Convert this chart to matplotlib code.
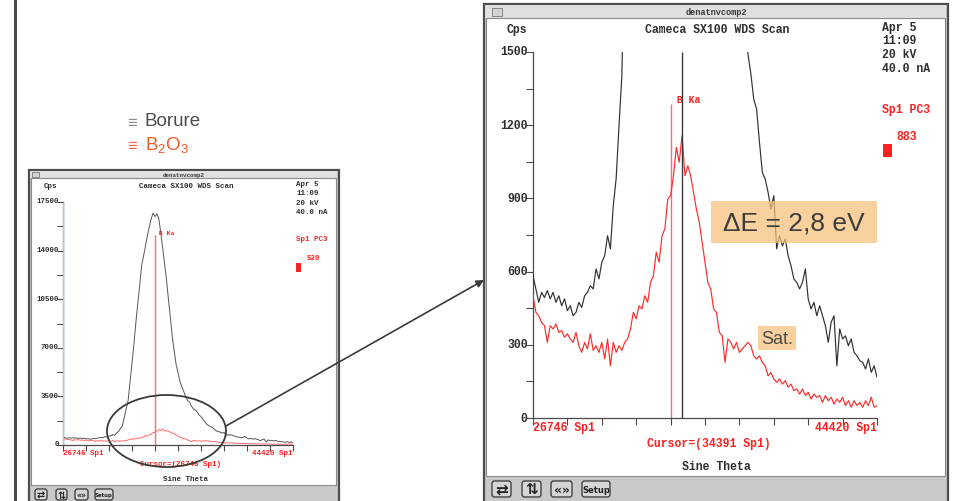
import numpy as np
import matplotlib
matplotlib.use("Agg")
import matplotlib.pyplot as plt
from matplotlib.patches import Rectangle, Ellipse, FancyBboxPatch
from matplotlib.ticker import MultipleLocator

# ---------------------------------------------------------------- data
sine_theta_start = 26746
sine_theta_end = 44420
n_channels = 121
sine_theta = np.linspace(sine_theta_start, sine_theta_end, n_channels)

# Boride standard, counts per second
borure_cps = [
    583, 529, 474, 515, 494, 522, 488, 515, 474, 501, 460, 488, 440, 460, 419, 433,
    474, 453, 501, 515, 542, 529, 611, 570, 638, 665, 747, 693, 870, 980, 1198, 1403,
    2000, 2620, 3240, 4590, 5880, 7250, 8800, 10170, 11470, 12900, 13600, 14300, 15060,
    15700, 16280, 16700, 16450, 16650, 16300, 15300, 14200, 13050, 11900, 10500, 9200,
    7800, 6800, 5810, 5200, 4580, 4180, 3850, 3500, 3200, 3100, 2800, 2600, 2520, 2380,
    2170, 2040, 1850, 1680,
    1490, 1410, 1307, 1266, 1130, 1007, 979, 925, 856, 911, 693, 747, 706, 734, 665,
    624, 570, 556, 529, 556, 611, 488, 447, 474, 419, 460, 419, 378, 310, 392, 419,
    214, 365, 324, 337, 296, 324, 269, 255, 235, 228, 201, 242, 187, 214, 167,
]

# Boron oxide, counts per second
b2o3_cps = [
    501, 433, 419, 392, 378, 310, 378, 365, 385, 351, 358, 331, 345, 324, 310, 351,
    296, 269, 310, 283, 345, 277, 296, 269, 310, 242, 324, 214, 310, 269, 296, 277,
    310, 324, 365,
    433, 406, 460, 447, 501, 474, 556, 583, 679, 638, 747, 775, 897, 911, 993, 1109,
    1048, 1157, 993, 1034, 993, 925, 856, 802, 720, 638, 556, 529, 447, 433, 351, 337,
    228, 324, 310, 283, 310, 269, 283, 296, 310, 296, 255, 242, 255, 228, 214, 173,
    187, 160, 146, 160, 139, 153, 126, 139, 112, 119, 98, 119, 92, 105, 78, 98, 85,
    92, 64, 92, 71, 85, 57, 78, 64, 85, 51, 71, 44, 71, 51, 64, 44, 71, 51, 85, 44, 51,
]

b_ka_position = 33821
overview_cursor = 26746
zoom_cursor = 34391
b_ka_top_overview = 15120
b_ka_top_zoom = 1287

overview_yticks = [0, 3500, 7000, 10500, 14000, 17500]
zoom_yticks = [0, 300, 600, 900, 1200, 1500]

# ---------------------------------------------------------------- style
W, H = 956, 502
MONO = ['Liberation Mono', 'DejaVu Sans Mono']
SANS = ['Liberation Sans', 'DejaVu Sans']
RED = '#ff2020'
INK = '#2e2e2e'

fig = plt.figure(figsize=(W / 100, H / 100), dpi=100)
fig.patch.set_facecolor('white')


def frac(x0, y0, x1, y1):
    return [x0 / W, 1 - y1 / H, (x1 - x0) / W, (y1 - y0) / H]


bg = fig.add_axes([0, 0, 1, 1], zorder=0)
bg.set_xlim(0, W)
bg.set_ylim(H, 0)
bg.axis('off')

# slide margin bar
bg.add_patch(Rectangle((14, -2), 2.6, H + 4, facecolor='#4a4a4a', edgecolor='none'))

# bullet legend
bg.text(127, 123, '\u2261', family=SANS, fontsize=12, color='#8a8a8a', va='center')
bg.text(145, 122, 'Borure', family=SANS, fontsize=13.5, color='#4d4d4d', va='center')
bg.text(127, 147, '\u2261', family=SANS, fontsize=12, color='#f26a45', va='center')
bg.text(145, 146, r'B$_\mathregular{2}$O$_\mathregular{3}$', family=SANS, fontsize=13.5,
        color='#f05a28', va='center')


def draw_window(x0, y0, x1, y1, title_bottom, bar_top, title, title_fs,
                close_box, buttons, btn_y, icon_fs):
    bg.add_patch(Rectangle((x0, y0), x1 - x0, y1 - y0, facecolor='#c9c9c9',
                           edgecolor='#4d4d4d', lw=1.6))
    bg.add_patch(Rectangle((x0 + 1.5, y0 + 1), x1 - x0 - 3, title_bottom - y0 - 1,
                           facecolor='#e0e0e0', edgecolor='none'))
    bg.add_patch(Rectangle((x0 + 2.5, title_bottom), x1 - x0 - 5, bar_top - title_bottom,
                           facecolor='white', edgecolor='#8a8a8a', lw=0.8))
    bg.text((x0 + x1) / 2, (y0 + title_bottom) / 2 + 0.5, title, family=MONO,
            fontsize=title_fs, fontweight='bold', color='#3a3a3a', ha='center', va='center')
    cx, cy, cw, ch = close_box
    bg.add_patch(Rectangle((cx, cy), cw, ch, facecolor='#d4d4d4', edgecolor='#777', lw=0.6))
    by0, by1 = btn_y
    for bx0, bx1, label, fs in buttons:
        bg.add_patch(FancyBboxPatch((bx0, by0), bx1 - bx0, by1 - by0,
                                    boxstyle='round,pad=0,rounding_size=2.5',
                                    facecolor='#d6d6d6', edgecolor='#333', lw=0.9))
        bg.text((bx0 + bx1) / 2, (by0 + by1) / 2 + 0.3, label, family=['DejaVu Sans'],
                fontsize=fs * icon_fs, color='#222', ha='center', va='center',
                fontweight='bold')


# overview window
draw_window(29, 171, 339, 508, 179, 486, 'denatnvcomp2', 4.2, (32, 172.5, 7, 5),
            [(35, 47, '\u21c4', 1.0), (56, 67, '\u21c5', 1.0), (75, 88, '\u00ab\u00bb', 0.8),
             (95, 113, 'Setup', 0.55)], (490, 501), 7)

# zoomed window
draw_window(484, 5, 948, 508, 19, 477, 'denatnvcomp2', 6.2, (492, 8.5, 10, 8),
            [(492, 511, '\u21c4', 1.0), (522, 541, '\u21c5', 1.0), (551, 572, '\u00ab\u00bb', 0.8),
             (582, 610, 'Setup', 0.55)], (482, 498), 11)


def scan_texts(fs, cps_xy, title_xy, info_x, info_ys, sp_y, rate, rate_xy, square,
               cursor_text, cursor_xy, theta_xy):
    kw = dict(family=MONO, fontsize=fs, fontweight='bold')
    bg.text(*cps_xy, 'Cps', color=INK, ha='center', va='center', **kw)
    bg.text(*title_xy, 'Cameca SX100 WDS Scan', color=INK, ha='center', va='center', **kw)
    for line, y in zip(['Apr 5', '11:09', '20 kV', '40.0 nA'], info_ys):
        bg.text(info_x, y, line, color=INK, ha='left', va='center', **kw)
    bg.text(info_x, sp_y, 'Sp1 PC3', color=RED, ha='left', va='center', **kw)
    bg.text(*rate_xy, rate, color=RED, ha='center', va='center', **kw)
    sx, sy, sw, sh = square
    bg.add_patch(Rectangle((sx, sy), sw, sh, facecolor=RED, edgecolor='none'))
    bg.text(*cursor_xy, cursor_text, color=RED, ha='center', va='center', **kw)
    bg.text(*theta_xy, 'Sine Theta', color=INK, ha='center', va='center', **kw)


scan_texts(5.4, (51, 187), (186, 187), 296.5, [185, 194, 203.3, 212.7], 240,
           '520', (313, 258.7), (296, 264, 5, 9), f'Cursor=({overview_cursor} Sp1)',
           (181, 464.3), (186, 479.3))
scan_texts(8.3, (517, 30), (717, 30), 882.5, [28, 41.5, 55, 69], 110,
           '883', (907, 137), (883, 145, 9, 13), f'Cursor=({zoom_cursor} Sp1)',
           (709, 444), (716, 467))


def scan_axes(rect_px, yticks, minor_step, fs, tick_len, label_drop, end_drop,
              cursor, cursor_top, cursor_color, b_ka_top, lw, black, red):
    ax = fig.add_axes(frac(*rect_px), zorder=2)
    ax.set_facecolor('none')
    ax.set_xlim(sine_theta_start, sine_theta_end)
    ax.set_ylim(0, yticks[-1])
    for s in ('top', 'right'):
        ax.spines[s].set_visible(False)
    ax.spines['bottom'].set_color('#4a4a4a')
    ax.spines['left'].set_color('#4a4a4a')
    ax.spines['bottom'].set_linewidth(0.9)
    ax.spines['left'].set_linewidth(0.9)
    ax.set_xticks(np.linspace(sine_theta_start, sine_theta_end, 11))
    ax.set_xticklabels([])
    ax.set_yticks(yticks)
    ax.set_yticklabels([])
    ax.yaxis.set_minor_locator(MultipleLocator(minor_step))
    ax.tick_params(axis='both', which='both', direction='out', length=tick_len,
                   width=0.8, color='#4a4a4a')
    # tick values sit on the tick like "1500_"
    for v in yticks:
        ax.annotate(str(v), xy=(0, v), xycoords=('axes fraction', 'data'),
                    xytext=(-tick_len - 0.3, -label_drop), textcoords='offset pixels',
                    ha='right', va='baseline', family=MONO, fontsize=fs,
                    fontweight='bold', color=INK)

    ax.plot(sine_theta, borure_cps, color=black, lw=lw, zorder=3)
    ax.plot(sine_theta, b2o3_cps, color=red, lw=lw, zorder=3)
    ax.vlines(b_ka_position, 0, b_ka_top, color='#ff6a6a', lw=1.0, zorder=2)
    ax.vlines(cursor, 0, cursor_top, color=cursor_color, lw=1.0, zorder=4)
    ax.text(b_ka_position, b_ka_top, ' B Ka', color=RED, family=MONO, fontsize=fs * 0.85,
            fontweight='bold', ha='left', va='bottom')

    kw = dict(family=MONO, fontsize=fs, fontweight='bold', color=RED, va='center',
              xycoords=('data', 'axes fraction'), textcoords='offset pixels')
    ax.annotate(f'{sine_theta_start} Sp1', xy=(sine_theta_start, 0), xytext=(0, -end_drop),
                ha='left', **kw)
    ax.annotate(f'{sine_theta_end} Sp1', xy=(sine_theta_end, 0), xytext=(0, -end_drop),
                ha='right', **kw)
    return ax


scan_axes((63, 203, 293, 446), overview_yticks, 1750, 5.4, 4, 0.5, 8,
          overview_cursor, overview_yticks[-1], '#a9c8f2', b_ka_top_overview, 0.7,
          '#555555', '#ff6a6a')
scan_axes((533, 53, 877, 419), zoom_yticks, 150, 8.3, 5, 2.5, 9,
          zoom_cursor, zoom_yticks[-1], '#3a3a3a', b_ka_top_zoom, 0.85,
          '#303030', '#ff2a2a')

# ---------------------------------------------------------------- callouts
ov = fig.add_axes([0, 0, 1, 1], zorder=5)
ov.set_xlim(0, W)
ov.set_ylim(H, 0)
ov.axis('off')
ov.set_facecolor('none')

ov.add_patch(Ellipse((166.5, 432), 119, 72, fill=False, edgecolor='#3a3a3a', lw=1.3))
ov.annotate('', xy=(484, 281), xytext=(226, 427),
            arrowprops=dict(arrowstyle='-|>', color='#3a3a3a', lw=1.2,
                            mutation_scale=11, shrinkA=0, shrinkB=0))

ov.add_patch(Rectangle((711, 202), 166, 42, facecolor='#f7c07a', alpha=0.72,
                       edgecolor='none'))
ov.text(794, 224, '\u0394E = 2,8 eV', family=SANS, fontsize=19, color='#3d3d3d',
        ha='center', va='center')
ov.add_patch(Rectangle((758, 327), 38, 24, facecolor='#f7c07a', alpha=0.72,
                       edgecolor='none'))
ov.text(777, 339.5, 'Sat.', family=SANS, fontsize=13, color='#4a4a4a',
        ha='center', va='center')

fig.savefig('out.png', dpi=100)
